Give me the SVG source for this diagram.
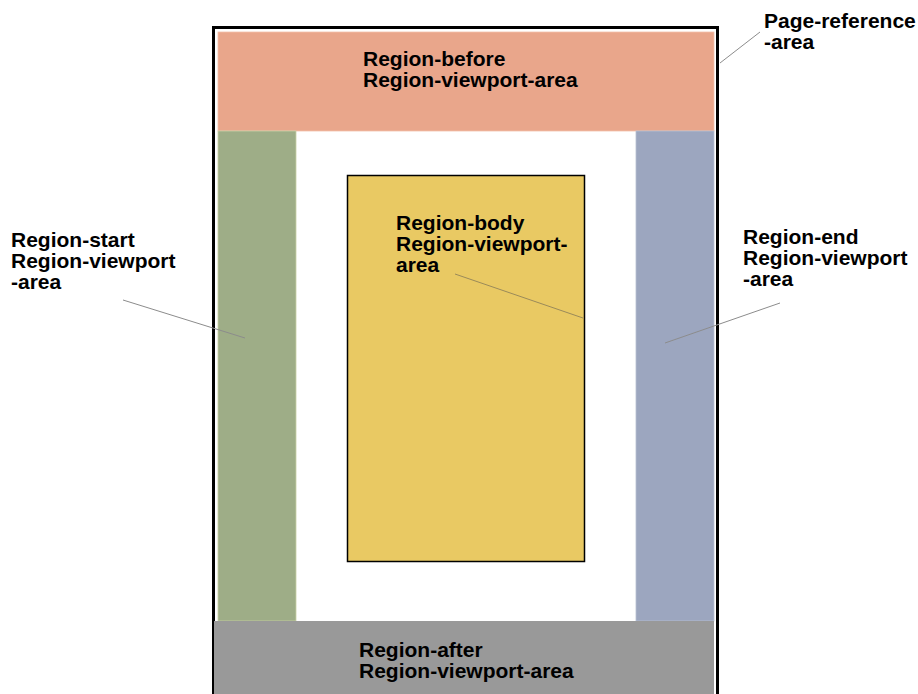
<svg xmlns="http://www.w3.org/2000/svg" width="918" height="694" viewBox="0 0 918 694">
<style>
.lbl{font-family:"Liberation Sans",Arial,sans-serif;font-weight:bold;font-size:21px;fill:#000}
.lead{stroke:#8c8c8c;stroke-width:1;fill:none}
</style>
<rect width="918" height="694" fill="#fff"/>
<g id="page-reference-area">
<rect x="213.5" y="27.5" width="504" height="700" fill="#fff" stroke="#000" stroke-width="3"/>
</g>
<g id="region-before">
<rect x="218" y="32" width="496" height="99" fill="#E9A68B" stroke="#f2c0aa" stroke-width="0.8"/>
<text class="lbl" x="363" y="66">Region-before</text>
<text class="lbl" x="363" y="87">Region-viewport-area</text>
</g>
<g id="region-start">
<rect x="218" y="131" width="78" height="490" fill="#9EAD87" stroke="#c9cfa6" stroke-width="0.8"/>
</g>
<g id="region-end">
<rect x="636" y="131" width="78" height="490" fill="#9CA6BF" stroke="#b8c0d2" stroke-width="0.8"/>
</g>
<g id="region-after">
<rect x="214" y="621" width="500" height="80" fill="#999999"/>
<text class="lbl" x="359" y="657">Region-after</text>
<text class="lbl" x="359" y="678">Region-viewport-area</text>
</g>
<g id="region-body">
<rect x="347.5" y="175.5" width="237" height="386" fill="#E9C963" stroke="#000" stroke-width="1.5"/>
<text class="lbl" x="396" y="230">Region-body</text>
<text class="lbl" x="396" y="251">Region-viewport-</text>
<text class="lbl" x="396" y="272">area</text>
</g>
<g id="label-page-reference">
<text class="lbl" x="764" y="28">Page-reference</text>
<text class="lbl" x="764" y="49">-area</text>
</g>
<g id="label-region-start">
<text class="lbl" x="11" y="247">Region-start</text>
<text class="lbl" x="11" y="268">Region-viewport</text>
<text class="lbl" x="11" y="289">-area</text>
</g>
<g id="label-region-end">
<text class="lbl" x="743" y="244">Region-end</text>
<text class="lbl" x="743" y="265">Region-viewport</text>
<text class="lbl" x="743" y="286">-area</text>
</g>
<g id="connectors">
<line class="lead" x1="720" y1="63" x2="760" y2="32" stroke="#b0b0b0"/>
<line class="lead" x1="123" y1="300" x2="245" y2="338"/>
<line class="lead" x1="780" y1="303" x2="665" y2="343"/>
<line class="lead" x1="455" y1="274" x2="583" y2="318" style="stroke:#9a8a5a"/>
</g>
</svg>
